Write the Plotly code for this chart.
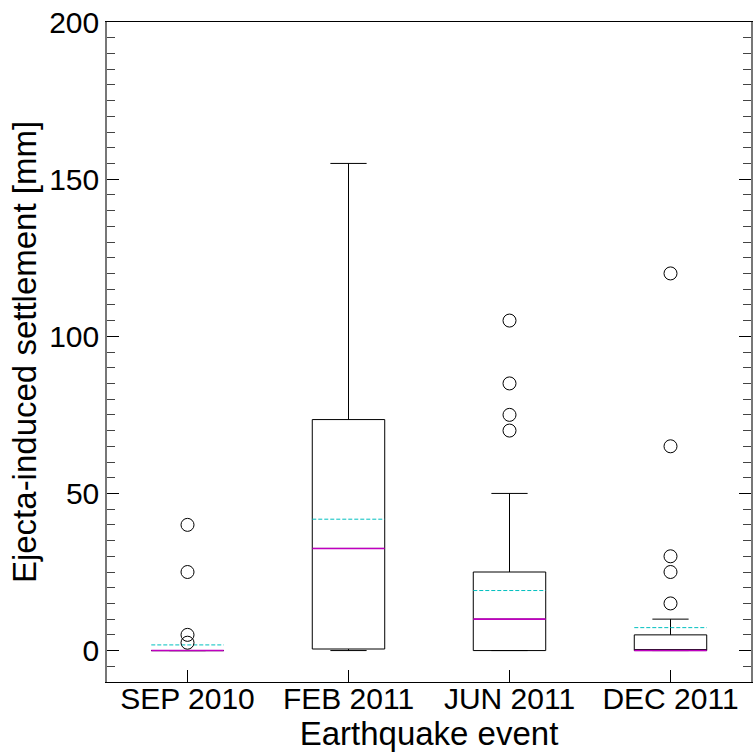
import plotly.graph_objects as go

# Ejecta-induced settlement per earthquake event (mm)
events = ["SEP 2010", "FEB 2011", "JUN 2011", "DEC 2011"]
q1 = [0, 0.5, 0, 0]
median = [0, 32.5, 10, 0]
q3 = [0, 73.5, 25, 5]
lower_whisker = [0, 0, 0, 0]
upper_whisker = [0, 155, 50, 10]
mean = [1.8, 41.8, 19.1, 7.3]
outliers = [
    [40, 25, 5, 2.5],
    [],
    [105, 85, 75, 70],
    [120, 65, 30, 25, 15],
]

FONT = "Liberation Sans, Arial, Helvetica, sans-serif"
BOX_W = 0.45
positions = list(range(1, len(events) + 1))

fig = go.Figure()

for i, pos in enumerate(positions):
    fig.add_trace(go.Box(
        x=[pos],
        q1=[q1[i]], median=[median[i]], q3=[q3[i]],
        lowerfence=[lower_whisker[i]], upperfence=[upper_whisker[i]],
        width=BOX_W, whiskerwidth=0.5,
        fillcolor="rgba(0,0,0,0)",
        line=dict(color="black", width=1),
        boxpoints=False, showlegend=False, hoverinfo="skip",
    ))
    # mean (dashed cyan)
    fig.add_trace(go.Scatter(
        x=[pos - BOX_W / 2, pos + BOX_W / 2], y=[mean[i], mean[i]],
        mode="lines", line=dict(color="#00BFBF", width=1, dash="4px,2px"),
        showlegend=False, hoverinfo="skip",
    ))
    # median (magenta)
    fig.add_trace(go.Scatter(
        x=[pos - BOX_W / 2, pos + BOX_W / 2], y=[median[i], median[i]],
        mode="lines", line=dict(color="#C000C0", width=1.6),
        showlegend=False, hoverinfo="skip",
    ))
    if outliers[i]:
        fig.add_trace(go.Scatter(
            x=[pos] * len(outliers[i]), y=outliers[i], mode="markers",
            marker=dict(symbol="circle-open", size=13, color="black",
                        line=dict(width=1, color="black")),
            showlegend=False, hoverinfo="skip",
        ))

fig.update_layout(
    width=754, height=752,
    margin=dict(l=107, r=1, t=22, b=70),
    paper_bgcolor="white", plot_bgcolor="white",
    font=dict(family=FONT, size=30, color="black"),
)
fig.update_xaxes(
    range=[0.5, len(events) + 0.5],
    tickmode="array", tickvals=positions, ticktext=events,
    ticks="inside", ticklen=12, tickcolor="black", tickwidth=1,
    ticklabelstandoff=-10,
    showline=True, linecolor="black", linewidth=1, mirror=True,
    showgrid=False, zeroline=False,
    title=dict(text="Earthquake event", standoff=0, font=dict(size=33)),
    tickfont=dict(size=30),
)
fig.update_yaxes(
    range=[-10, 200], tickmode="array", tickvals=[0, 50, 100, 150, 200],
    ticks="inside", ticklen=12, tickcolor="black", tickwidth=1,
    minor=dict(ticks="inside", ticklen=8, dtick=5, tick0=0,
               tickcolor="#444", tickwidth=1, showgrid=False),
    showline=True, linecolor="#777", linewidth=1.5, mirror="ticks",
    showgrid=False, zeroline=False,
    title=dict(text="Ejecta-induced settlement [mm]", standoff=3, font=dict(size=33)),
    tickfont=dict(size=30),
)

fig.write_html("out.html")
